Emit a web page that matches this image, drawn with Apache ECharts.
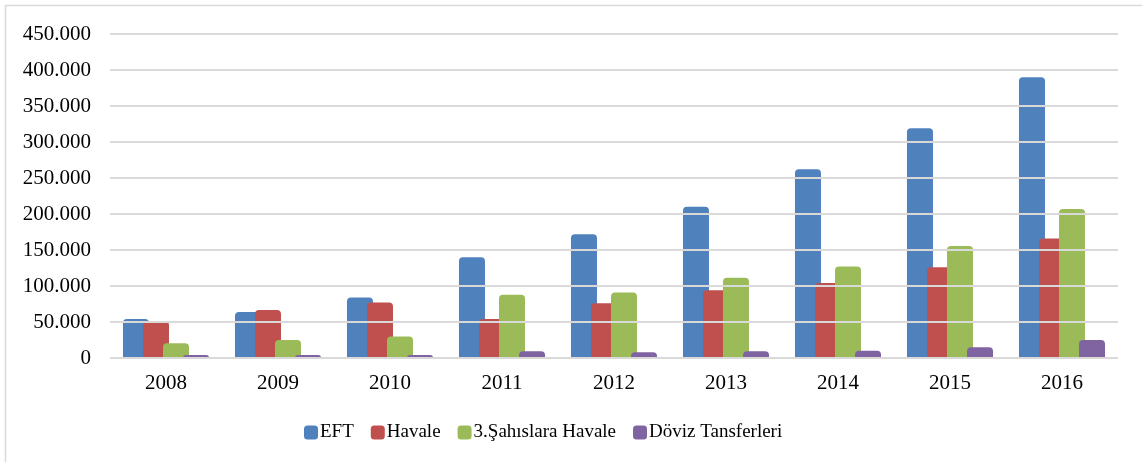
<!DOCTYPE html>
<html>
<head>
<meta charset="utf-8">
<script src="https://cdn.jsdelivr.net/npm/echarts@6/dist/echarts.min.js"></script>
<style>
  html, body { margin: 0; padding: 0; background: #fff; }
  #main { width: 1142px; height: 462px; }
</style>
</head>
<body>
<div id="main"></div>
<script>
// veriler (grafikten okunan yaklaşık değerler)
var years = ['2008', '2009', '2010', '2011', '2012', '2013', '2014', '2015', '2016'];
var eft = [54000, 64000, 84000, 140000, 172000, 210000, 262000, 319000, 390000];
var havale = [51000, 66500, 77000, 54000, 76000, 94000, 104000, 126000, 166000];
var sahis = [20500, 25000, 30000, 88000, 91000, 111500, 127000, 155500, 207000];
var doviz = [4000, 4000, 4000, 9500, 8000, 9500, 10000, 15000, 25000];

var names = ['EFT', 'Havale', '3.Şahıslara Havale', 'Döviz Tansferleri'];
var colors = ['#4f81bd', '#c0504d', '#9bbb59', '#8064a2'];
var values = [eft, havale, sahis, doviz];

var myChart = echarts.init(document.getElementById('main'));

var series = values.map(function (v, i) {
    return {
        name: names[i],
        type: 'bar',
        data: v,
        barWidth: 26,
        barGap: '-23%',
        itemStyle: {
            color: colors[i],
            borderRadius: [4, 4, 0, 0]
        }
    };
});

var option = {
    color: colors,
    animation: false,
    textStyle: { fontFamily: 'Liberation Serif' },
    graphic: [{
        type: 'rect',
        shape: { x: 5.5, y: 5.5, width: 1200, height: 500 },
        style: { fill: 'none', stroke: '#d9d9d9', lineWidth: 1.5 },
        silent: true
    }],
    legend: {
        data: names,
        bottom: 15,
        left: 299,
        icon: 'roundRect',
        itemWidth: 14,
        itemHeight: 14,
        itemGap: 17,
        textStyle: { fontFamily: 'Liberation Serif', fontSize: 19, color: '#000', padding: [0, 0, 0, -3] }
    },
    grid: { left: 110, right: 24, top: 34, bottom: 104, containLabel: false },
    xAxis: {
        type: 'category',
        data: years,
        axisLine: { show: false },
        axisTick: { show: false },
        axisLabel: { fontFamily: 'Liberation Serif', fontSize: 21, color: '#000', margin: 15 }
    },
    yAxis: {
        type: 'value',
        min: 0,
        max: 450000,
        interval: 50000,
        z: 5,
        axisLine: { show: false },
        axisTick: { show: false },
        splitLine: { lineStyle: { color: '#d9d9d9', width: 2 } },
        axisLabel: {
            fontFamily: 'Liberation Serif',
            fontSize: 21,
            color: '#000',
            margin: 19,
            formatter: function (v) {
                if (v === 0) return '0';
                return (v / 1000) + '.000';
            }
        }
    },
    series: series
};

myChart.setOption(option);
</script>
</body>
</html>
